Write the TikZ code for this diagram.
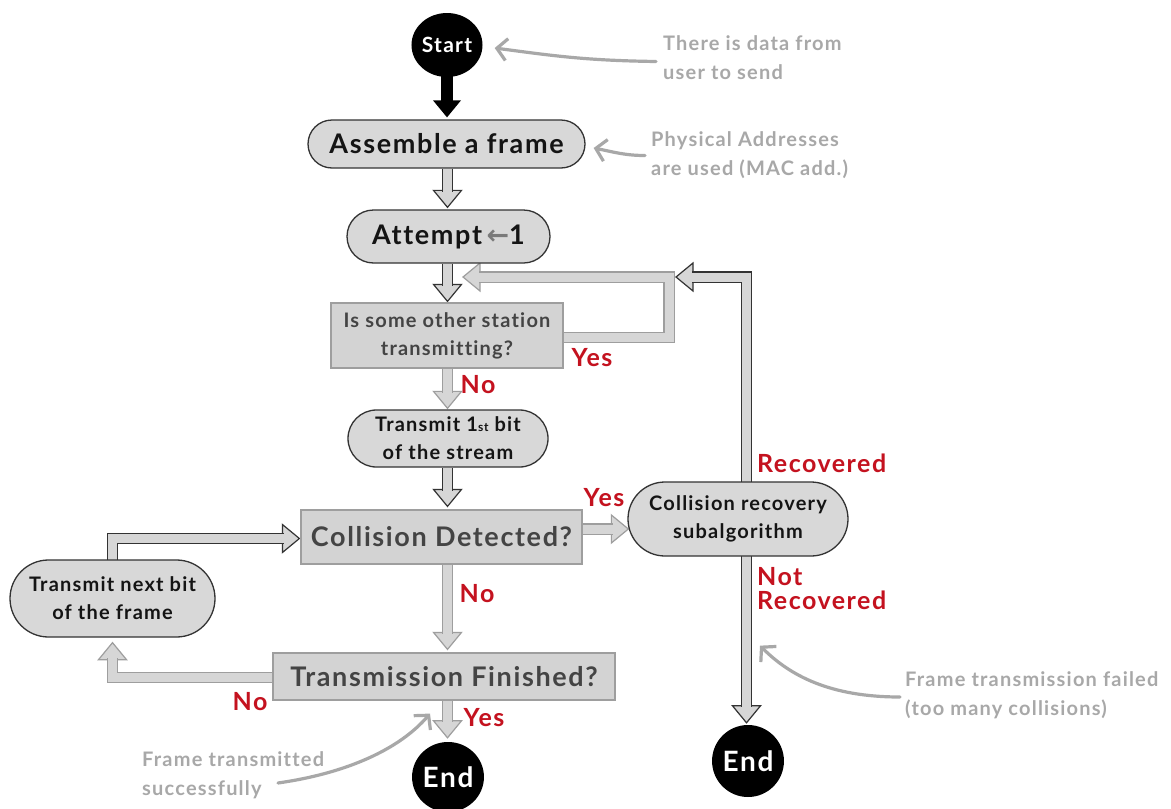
\documentclass[tikz,border=0pt]{standalone}
\usepackage{fontspec}
\setmainfont{Lato}[LetterSpace=6, Ligatures=NoCommon]
\newfontfamily\symfont{DejaVu Sans}
\usetikzlibrary{shapes.misc,shapes.geometric,calc,arrows.meta}

\definecolor{boxfill}{HTML}{D8D8D8}
\definecolor{qfill}{HTML}{D3D3D3}
\definecolor{darkedge}{HTML}{333333}
\definecolor{lightedge}{HTML}{9E9E9E}
\definecolor{qtext}{HTML}{444444}
\definecolor{lblred}{HTML}{C4121F}
\definecolor{notegray}{HTML}{A8A8A8}
\definecolor{arrowfill}{HTML}{D6D6D6}
\definecolor{arrowgray}{HTML}{7A7A7A}

\pgfdeclarelayer{bg}
\pgfsetlayers{bg,main}

\tikzset{
  stadium/.style={rounded rectangle, draw=darkedge, line width=1.3pt, fill=boxfill,
    text=black!92, align=center, inner sep=0pt},
  question/.style={rectangle, draw=lightedge, line width=1.2pt, fill=qfill,
    text=qtext, align=center, inner sep=0pt},
  terminal/.style={ellipse, fill=black, text=white, inner sep=0pt},
  bigtxt/.style={font=\bfseries\fontsize{27}{30}\selectfont},
  midtxt/.style={font=\bfseries\fontsize{20}{28}\selectfont},
  chanD/.style={draw=darkedge, line width=1.2pt, double=arrowfill, double distance=9pt},
  chanL/.style={draw=lightedge, line width=1.2pt, double=arrowfill, double distance=9pt},
  lbl/.style={text=lblred, inner sep=0pt, font=\bfseries\fontsize{25}{24}\selectfont},
  note/.style={text=notegray, align=left, inner sep=0pt, font=\bfseries\fontsize{20}{29}\selectfont},
  notearrow/.style={draw=notegray, line width=3.2pt, line cap=round,
    -{Straight Barb[length=10pt,width=22pt]}},
  headD/.pic={\filldraw[fill=arrowfill, draw=darkedge, line width=1.2pt, line join=miter]
    (0,0) -- (-17,14) -- (-17,-14) -- cycle;},
  headL/.pic={\filldraw[fill=arrowfill, draw=lightedge, line width=1.2pt, line join=miter]
    (0,0) -- (-17,14) -- (-17,-14) -- cycle;},
  headB/.pic={\fill[black] (0,0) -- (-17,14) -- (-17,-14) -- cycle;},
}

\begin{document}
\begin{tikzpicture}[x=1pt,y=1pt]
\useasboundingbox (0,0) rectangle (1171,-809);

% main column and right column axes
\coordinate (spine) at (447.5,0);
\coordinate (rspine) at (746.5,0);
\coordinate (yloop) at (669,-277);

% ---------- nodes ----------
\node[terminal, minimum width=68pt, minimum height=64pt,
      font=\bfseries\fontsize{21}{22}\selectfont] (start) at (447,-45) {Start};
\node[stadium, bigtxt, minimum width=277pt, minimum height=48pt] (assemble) at (446.5,-144) {Assemble a frame};
\node[stadium, bigtxt, minimum width=203pt, minimum height=53pt] (attempt) at (448.5,-236.5)
  {Attempt\,{\symfont\bfseries\color{arrowgray}←}1};
\node[question, midtxt, minimum width=232pt, minimum height=65pt] (q1) at (447,-335.5)
  {Is some other station\\transmitting?};
\node[stadium, midtxt, minimum width=200pt, minimum height=57pt] (tx1) at (448,-438.5)
  {Transmit 1{\fontsize{12}{12}\selectfont st} bit\\of the stream};
\node[question, bigtxt, minimum width=281pt, minimum height=54pt] (coll) at (441.5,-537) {Collision Detected?};
\node[stadium, midtxt, minimum width=205pt, minimum height=77pt] (txn) at (112.5,-598.5)
  {Transmit next bit\\of the frame};
\node[question, bigtxt, minimum width=342pt, minimum height=47pt] (fin) at (444,-676.5) {Transmission Finished?};
\node[terminal, minimum width=70pt, minimum height=70pt,
      font=\bfseries\fontsize{28}{28}\selectfont] (end1) at (448,-777) {End};
\node[stadium, midtxt, minimum width=220pt, minimum height=74pt] (rec) at (738,-519)
  {Collision recovery\\subalgorithm};
\node[terminal, minimum width=70pt, minimum height=72pt,
      font=\bfseries\fontsize{28}{28}\selectfont] (end2) at (748,-761) {End};

% ---------- branch labels ----------
\node[lbl] (yes1) at (592,-358) {Yes};
\node[lbl] (no1) at (478,-385) {No};
\node[lbl] (yes2) at (604,-498) {Yes};
\node[lbl] (no2) at (477,-594) {No};
\node[lbl] (no3) at (250,-702) {No};
\node[lbl] (yes3) at (484,-718) {Yes};
\node[lbl, anchor=west] (recd) at (757,-463) {Recovered};
\node[lbl, anchor=west, align=left] (notrec) at (757,-589) {Not\\Recovered};

% ---------- side notes ----------
\node[note, anchor=west] (ann1) at (663,-57.5) {There is data from\\user to send};
\node[note, anchor=west] (ann2) at (651,-155.5) {Physical Addresses\\are used (MAC add.)};
\node[note, anchor=west] (ann3) at (905,-695.5) {Frame transmission failed\\(too many collisions)};
\node[note, anchor=west] (ann4) at (142,-775) {Frame transmitted\\successfully};

% ---------- connectors (behind the nodes) ----------
\begin{pgfonlayer}{bg}
\fill[white] (0,0) rectangle (1171,-809);

% tips of the block arrows
\coordinate (t0) at ($(start.south |- assemble.north)+(0,2)$);
\coordinate (t1) at ($(spine |- attempt.north)+(0,2)$);
\coordinate (t2) at ($(spine |- q1.north)+(0,1)$);
\coordinate (t3) at ($(spine |- tx1.north)+(0,1)$);
\coordinate (t4) at ($(spine |- coll.north)+(0,3)$);
\coordinate (t5) at ($(spine |- fin.north)+(0,3)$);
\coordinate (t6) at ($(spine |- end1.north)+(0,4)$);
\coordinate (t7) at ($(spine |- yloop)+(15.5,0)$);
\coordinate (t8) at ($(yloop)+(7,0)$);
\coordinate (t9) at ($(rspine |- end2.north)+(0,2)$);
\coordinate (t10) at ($(rec.west)+(1,-10)$);
\coordinate (t11) at ($(coll.west)+(-1,-1.5)$);
\coordinate (t12) at ($(txn.south)+(0,-5)$);

% Start -> Assemble
\pic[rotate=-90] at (t0) {headB};
\draw[black, line width=12pt] ($(start.south)+(0,2)$) -- ($(t0)+(0,16)$);

% Assemble -> Attempt
\pic[rotate=-90] at (t1) {headD};
\draw[chanD] (spine |- assemble.south) -- ($(t1)+(0,15.8)$);

% Attempt -> station check
\pic[rotate=-90] at (t2) {headD};
\draw[chanD] (spine |- attempt.south) -- ($(t2)+(0,15.8)$);

% station check: No -> first bit
\pic[rotate=-90] at (t3) {headL};
\draw[chanL] (spine |- q1.south) -- ($(t3)+(0,15.8)$);

% first bit -> collision check
\pic[rotate=-90] at (t4) {headD};
\draw[chanD] (spine |- tx1.south) -- ($(t4)+(0,15.8)$);

% collision check: No -> finished check
\pic[rotate=-90] at (t5) {headL};
\draw[chanL] (spine |- coll.south) -- ($(t5)+(0,15.8)$);

% finished check: Yes -> End
\pic[rotate=-90] at (t6) {headL};
\draw[chanL] (spine |- fin.south) -- ($(t6)+(0,15.8)$);

% station check: Yes -> back to itself
\pic[rotate=180] at (t7) {headL};
\draw[chanL] ($(q1.east)+(-2,-2)$) -| (yloop) -- ($(t7)+(15.8,0)$);

% recovery: Recovered -> back to station check
\pic[rotate=180] at (t8) {headD};
\draw[chanD] ($(rspine |- rec.north)+(0,-2)$) |- ($(t8)+(15.8,0)$);

% recovery: Not Recovered -> End
\pic[rotate=-90] at (t9) {headD};
\draw[chanD] ($(rspine |- rec.south)+(0,2)$) -- ($(t9)+(0,15.8)$);

% collision check: Yes -> recovery
\pic at (t10) {headL};
\draw[chanL] ($(coll.east |- t10)+(-2,0)$) -- ($(t10)+(-15.8,0)$);

% next bit -> collision check
\pic at (t11) {headD};
\draw[chanD] ($(txn.north)+(0,-2)$) |- ($(t11)+(-15.8,0)$);

% finished check: No -> next bit
\pic[rotate=90] at (t12) {headL};
\draw[chanL] ($(fin.west)+(2,-1)$) -| ($(t12)+(0,-15.8)$);
\end{pgfonlayer}

% ---------- note pointers ----------
\coordinate (f3) at ($(rspine |- rec.south)+(13.5,-89)$);
\coordinate (f4) at ($(spine |- fin.south)+(-17.5,-13)$);
\draw[notearrow] ($(ann1.west)+(-7,-4)$) .. controls +(-70,1) and +(60,-8) .. ($(start.east)+(12,-3)$);
\draw[notearrow] ($(ann2.west)+(-6,0)$) .. controls +(-20,0) and +(20,-4) .. ($(assemble.east)+(8,-4)$);
\draw[notearrow] ($(ann3.west)+(-5,-1.5)$) .. controls +(-70,0) and +(30,-30) .. (f3);
\draw[notearrow] ($(ann4.west)+(136,-8)$) .. controls +(70,10) and +(-30,-35) .. (f4);
\end{tikzpicture}
\end{document}
